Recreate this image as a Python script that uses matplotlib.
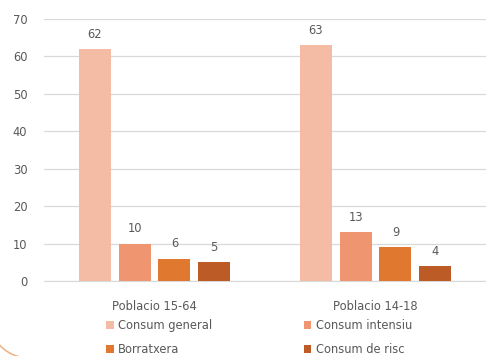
import numpy as np
import matplotlib
matplotlib.use("Agg")
import matplotlib.pyplot as plt
from matplotlib.patches import Arc

groups = ["Poblacio 15-64", "Poblacio 14-18"]
series = ["Consum general", "Consum intensiu", "Borratxera", "Consum de risc"]
consum_general = [62, 63]
consum_intensiu = [10, 13]
borratxera = [6, 9]
consum_risc = [5, 4]
values = [consum_general, consum_intensiu, borratxera, consum_risc]
colors = ["#F4BBA5", "#EF9670", "#E0782F", "#BC5B25"]

plt.rcParams['font.family'] = ['DejaVu Sans']
txt = "#595959"
fs = 8.3

fig = plt.figure(figsize=(4.86, 3.56), dpi=100)
ax = fig.add_axes([0.0905, 0.2107, 0.9095, 0.7359])

x = np.arange(len(groups))
w = 0.144
step = 0.18
bars = []
for i, (vals, c) in enumerate(zip(values, colors)):
    b = ax.bar(x + (i - 1.5) * step, vals, width=w, color=c, label=series[i], zorder=3)
    bars.append(b)
    for xi, v in zip(x + (i - 1.5) * step, vals):
        ax.text(xi, v + 2.2, str(v), ha="center", va="bottom", fontsize=fs, color=txt)

ax.set_xlim(-0.5, 1.5)
ax.set_ylim(0, 70)
ax.set_yticks(range(0, 71, 10))
ax.set_xticks(x)
ax.set_xticklabels(groups)
ax.tick_params(axis="both", length=0, labelsize=fs, labelcolor=txt)
ax.tick_params(axis="y", pad=12)
ax.tick_params(axis="x", pad=14)
ax.grid(axis="y", color="#D9D9D9", linewidth=0.9, zorder=0)
for s in ["top", "right", "left"]:
    ax.spines[s].set_visible(False)
ax.spines["bottom"].set_color("#D9D9D9")

# legend rows: general/intensiu, borratxera/risc
order = [0, 2, 1, 3]
fig.legend([bars[k] for k in order], [series[k] for k in order], ncol=2,
           loc="lower left", bbox_to_anchor=(0.197, -0.03), frameon=False,
           fontsize=fs, labelcolor=txt, handlelength=0.65, handleheight=0.65,
           handletextpad=0.35, columnspacing=8.0, labelspacing=0.95)

# rounded corner of the frame
fig.patches.append(Arc((0.29, 0.38), 0.8, 0.8, theta1=180, theta2=270,
                       transform=fig.dpi_scale_trans, color="#EDB58A", lw=1.2))

fig.savefig("out.png", dpi=100)
